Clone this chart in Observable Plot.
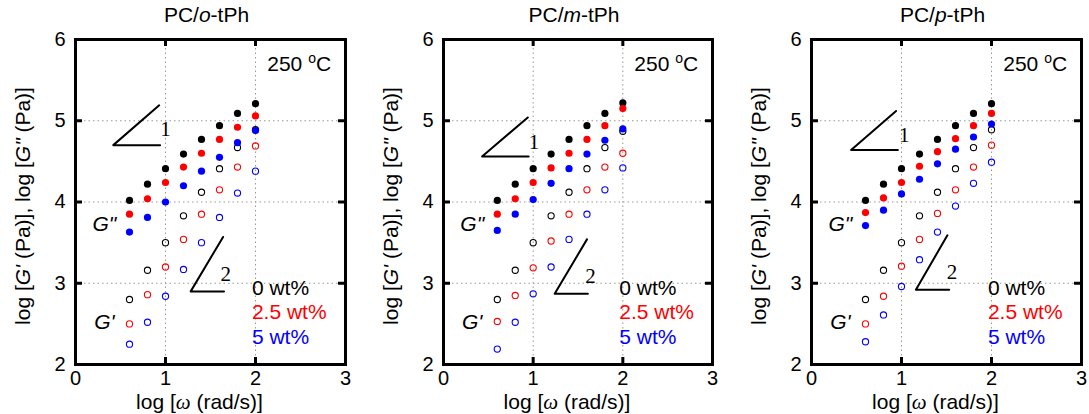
<!DOCTYPE html>
<html><head><meta charset="utf-8">
<script src="https://cdn.jsdelivr.net/npm/d3@7"></script>
<script src="https://cdn.jsdelivr.net/npm/@observablehq/plot@0.6"></script>
<style>
html,body{margin:0;padding:0;background:#fff;}
#chart{position:relative;width:1089px;height:414px;overflow:hidden;}
#chart svg{position:absolute;top:0;}
</style></head><body><div id="chart"></div>
<script>
// ---------- data ----------
const omega = [0.6, 0.8, 1.0, 1.2, 1.4, 1.6, 1.8, 2.0];
const titles = ["PC/o-tPh", "PC/m-tPh", "PC/p-tPh"];
const seriesLabels = ["0 wt%", "2.5 wt%", "5 wt%"];
const xTicks = [0, 1, 2, 3];
const yTicks = [2, 3, 4, 5, 6];
const gridXs = [1, 2];
const gridYs = [3, 4, 5];
const xTitle = "log [ω (rad/s)]";
const yTitle = "log [G' (Pa)], log [G\" (Pa)]";
const tempLabel = "250 oC";
const modLabels = ["G\"", "G'"];
const slopeLabels = ["1", "2"];

// PC/o-tPh
const oGpp0  = [4.02, 4.22, 4.41, 4.59, 4.77, 4.94, 5.09, 5.21];
const oGpp25 = [3.85, 4.04, 4.24, 4.43, 4.60, 4.77, 4.92, 5.06];
const oGpp5  = [3.63, 3.81, 4.00, 4.20, 4.38, 4.55, 4.73, 4.88];
const oGp0   = [2.80, 3.16, 3.50, 3.83, 4.12, 4.41, 4.67, 4.89];
const oGp25  = [2.50, 2.86, 3.20, 3.54, 3.85, 4.15, 4.43, 4.69];
const oGp5   = [2.25, 2.52, 2.84, 3.17, 3.50, 3.81, 4.11, 4.38];
// PC/m-tPh
const mGpp0  = [4.02, 4.22, 4.41, 4.59, 4.77, 4.94, 5.09, 5.22];
const mGpp25 = [3.85, 4.04, 4.24, 4.42, 4.60, 4.77, 4.94, 5.15];
const mGpp5  = [3.65, 3.85, 4.03, 4.23, 4.41, 4.59, 4.76, 4.90];
const mGp0   = [2.80, 3.16, 3.50, 3.83, 4.12, 4.41, 4.67, 4.87];
const mGp25  = [2.53, 2.85, 3.19, 3.52, 3.85, 4.15, 4.43, 4.60];
const mGp5   = [2.19, 2.52, 2.87, 3.20, 3.54, 3.85, 4.15, 4.42];
// PC/p-tPh
const pGpp0  = [4.02, 4.22, 4.41, 4.59, 4.77, 4.94, 5.09, 5.21];
const pGpp25 = [3.87, 4.05, 4.24, 4.44, 4.62, 4.78, 4.94, 5.09];
const pGpp5  = [3.71, 3.90, 4.10, 4.28, 4.47, 4.65, 4.80, 4.96];
const pGp0   = [2.80, 3.16, 3.50, 3.83, 4.12, 4.41, 4.67, 4.89];
const pGp25  = [2.50, 2.84, 3.21, 3.54, 3.86, 4.15, 4.43, 4.70];
const pGp5   = [2.28, 2.61, 2.96, 3.29, 3.63, 3.95, 4.23, 4.49];

// slope-triangle guides (data units): [horizontal end, corner, hypotenuse end]
const oSlope1 = [[0.94, 4.70], [0.42, 4.70], [0.93, 5.19]];
const oSlope2 = [[1.65, 2.90], [1.28, 2.90], [1.64, 3.57]];
const mSlope1 = [[0.95, 4.56], [0.43, 4.56], [0.94, 5.04]];
const mSlope2 = [[1.61, 2.87], [1.24, 2.87], [1.60, 3.54]];
const pSlope1 = [[0.96, 4.64], [0.44, 4.64], [0.94, 5.12]];
const pSlope2 = [[1.53, 2.92], [1.16, 2.92], [1.51, 3.59]];
const oSlopeLabelPos = [[1.00, 4.90], [1.67, 3.11]];
const mSlopeLabelPos = [[1.01, 4.74], [1.64, 3.09]];
const pSlopeLabelPos = [[1.03, 4.82], [1.56, 3.14]];

const tempPos = [2.84, 5.70];
const modLabelPos = [[0.32, 3.72], [0.32, 2.52]];
const legendX = 1.96;
const legendY = [2.94, 2.64, 2.33];

// ---------- styling / layout ----------
const SANS = "'Liberation Sans', Arial, Helvetica, sans-serif";
const SERIF = "'Liberation Serif', 'Times New Roman', serif";
const colors = ["#000000", "#ff0000", "#0000ff"];

const panels = [
  {title: titles[0], left: 0,   mL: 75, mR: 18, Gpp: [oGpp0, oGpp25, oGpp5], Gp: [oGp0, oGp25, oGp5],
   s1: oSlope1, s2: oSlope2, sl: oSlopeLabelPos},
  {title: titles[1], left: 363, mL: 80, mR: 14, Gpp: [mGpp0, mGpp25, mGpp5], Gp: [mGp0, mGp25, mGp5],
   s1: mSlope1, s2: mSlope2, sl: mSlopeLabelPos},
  {title: titles[2], left: 726, mL: 85, mR: 8,  Gpp: [pGpp0, pGpp25, pGpp5], Gp: [pGp0, pGp25, pGp5],
   s1: pSlope1, s2: pSlope2, sl: pSlopeLabelPos}
];

const rich = {
  "PC/o-tPh": 'PC/<tspan font-style="italic">o</tspan>-tPh',
  "PC/m-tPh": 'PC/<tspan font-style="italic">m</tspan>-tPh',
  "PC/p-tPh": 'PC/<tspan font-style="italic">p</tspan>-tPh',
  [tempLabel]: '250 <tspan dy="-8" font-size="14">o</tspan><tspan dy="8">C</tspan>',
  [xTitle]: 'log [<tspan font-family="Liberation Serif" font-style="italic">ω</tspan> (rad/s)]',
  [yTitle]: 'log [<tspan font-style="italic">G\'</tspan> (Pa)], log [<tspan font-style="italic">G"</tspan> (Pa)]'
};

const W = 363, H = 414, MT = 39, MB = 50, TICK = 7;
const chart = document.getElementById("chart");

for (const p of panels) {
  const fw = W - p.mL - p.mR, fh = H - MT - MB;
  const openRows = [], fillRows = [];
  p.Gp.forEach((arr, s) => arr.forEach((v, i) => openRows.push({x: omega[i], y: v, c: colors[s]})));
  p.Gpp.forEach((arr, s) => arr.forEach((v, i) => fillRows.push({x: omega[i], y: v, c: colors[s]})));

  const svg = Plot.plot({
    width: W, height: H,
    marginLeft: p.mL, marginRight: p.mR, marginTop: MT, marginBottom: MB,
    x: {domain: [0, 3]},
    y: {domain: [2, 6]},
    color: {type: "identity"},
    style: {fontFamily: SANS, fontSize: "20px", color: "#000", background: "transparent", overflow: "visible"},
    marks: [
      Plot.ruleX(gridXs, {stroke: "#999", strokeDasharray: "1.5,3", strokeWidth: 1}),
      Plot.ruleY(gridYs, {stroke: "#999", strokeDasharray: "1.5,3", strokeWidth: 1}),
      Plot.ruleX(gridXs, {insetTop: fh - TICK, strokeWidth: 3, stroke: "#000"}),
      Plot.ruleX(gridXs, {insetBottom: fh - TICK, strokeWidth: 3, stroke: "#000"}),
      Plot.ruleY(gridYs, {insetRight: fw - TICK, strokeWidth: 3, stroke: "#000"}),
      Plot.ruleY(gridYs, {insetLeft: fw - TICK, strokeWidth: 3, stroke: "#000"}),
      Plot.frame({strokeWidth: 3, stroke: "#000"}),
      Plot.axisX(xTicks, {tickSize: 0, tickPadding: 6, label: null, fontSize: 20, tickFormat: d => String(d)}),
      Plot.axisY(yTicks, {tickSize: 0, tickPadding: 10, label: null, fontSize: 20, tickFormat: d => String(d)}),
      // slope triangles
      Plot.line(p.s1, {x: d => d[0], y: d => d[1], stroke: "#000", strokeWidth: 2}),
      Plot.line(p.s2, {x: d => d[0], y: d => d[1], stroke: "#000", strokeWidth: 2}),
      Plot.text(slopeLabels, {x: (d, i) => p.sl[i][0], y: (d, i) => p.sl[i][1], text: d => d,
        fontFamily: SERIF, fontSize: 21}),
      // data
      Plot.dot(openRows, {x: "x", y: "y", stroke: "c", fill: "none", r: 3.1, strokeWidth: 1.1}),
      Plot.dot(fillRows, {x: "x", y: "y", fill: "c", r: 3.6}),
      // annotations
      Plot.text([tempLabel], {x: () => tempPos[0], y: () => tempPos[1], text: d => d,
        textAnchor: "end", fontSize: 21}),
      Plot.text(modLabels, {x: (d, i) => modLabelPos[i][0], y: (d, i) => modLabelPos[i][1], text: d => d,
        fontStyle: "italic", fontSize: 21}),
      Plot.text(seriesLabels, {x: () => legendX, y: (d, i) => legendY[i], text: d => d,
        fill: (d, i) => colors[i], textAnchor: "start", fontSize: 21}),
      // titles
      Plot.text([p.title], {frameAnchor: "top", dy: -24, dx: -4, text: d => d, fontSize: 21,
        textAnchor: "middle", lineAnchor: "middle"}),
      Plot.text([xTitle], {frameAnchor: "bottom", dy: 38, dx: -11, text: d => d, fontSize: 21,
        textAnchor: "middle", lineAnchor: "middle"}),
      Plot.text([yTitle], {frameAnchor: "left", dx: -52, dy: 4, rotate: -90, text: d => d, fontSize: 21,
        textAnchor: "middle", lineAnchor: "middle"})
    ]
  });
  svg.style.left = p.left + "px";
  svg.querySelectorAll("text").forEach(t => {
    const k = t.textContent;
    if (Object.prototype.hasOwnProperty.call(rich, k)) t.innerHTML = rich[k];
  });
  chart.appendChild(svg);
}
</script>
</body></html>
